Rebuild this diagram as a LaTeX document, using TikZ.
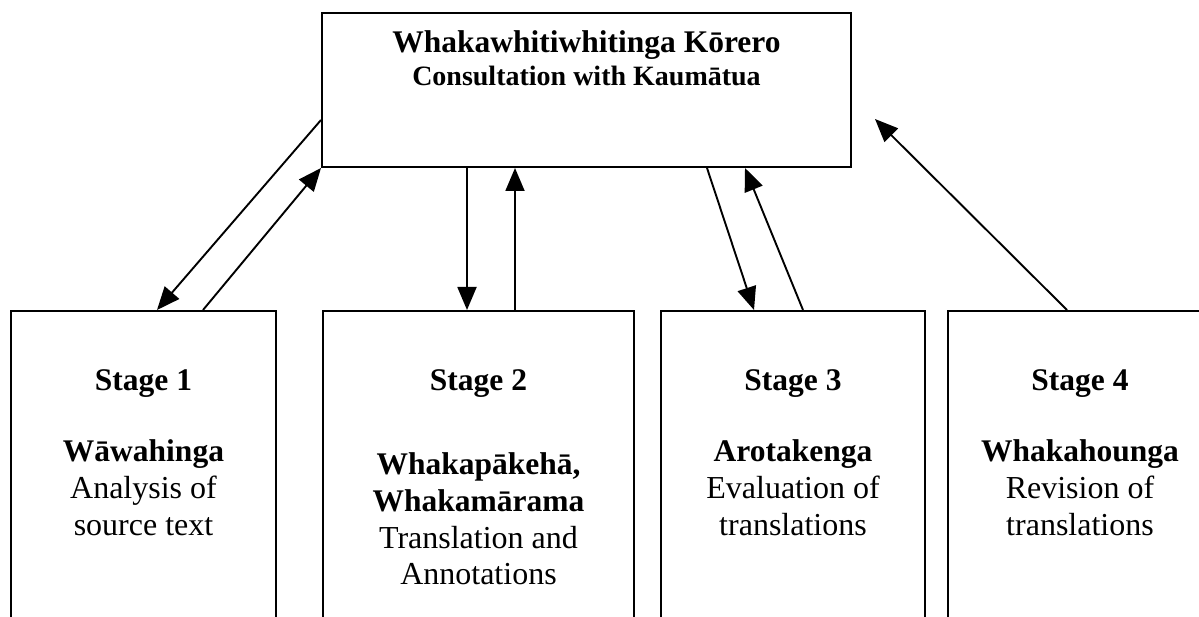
\documentclass[tikz,border=0pt]{standalone}
\usepackage{fontspec}
\setmainfont{Liberation Serif}
\usetikzlibrary{arrows.meta,calc}
\begin{document}
\begin{tikzpicture}[x=1pt,y=-1pt,
  box/.style={draw,line width=2pt,rectangle,inner sep=0pt},
  arr/.style={line width=1.9pt,-{Triangle[length=23pt,width=19pt]}},
  bt/.style={font=\fontsize{31.5}{36}\selectfont\bfseries,anchor=base,inner sep=0pt},
  bs/.style={font=\fontsize{28}{32}\selectfont\bfseries,anchor=base,inner sep=0pt},
  rt/.style={font=\fontsize{32}{36}\selectfont,anchor=base,inner sep=0pt}]
\useasboundingbox (0,0) rectangle (1199,617);
\clip (0,0) rectangle (1199,617);
% boxes
\node[box,minimum width=529pt,minimum height=154pt] (top) at (586.5,90) {};
\node[box,minimum width=265pt,minimum height=349pt] (s1) at (143.5,485.5) {};
\node[box,minimum width=311pt,minimum height=349pt] (s2) at (478.5,485.5) {};
\node[box,minimum width=264pt,minimum height=349pt] (s3) at (793,485.5) {};
\node[box,minimum width=264pt,minimum height=349pt] (s4) at (1080,485.5) {};
% top texts
\node[bt] (title) at (586.5,53) {Whakawhitiwhitinga Kōrero};
\node[bs] (sub) at (586.5,86) {Consultation with Kaumātua};
% stage 1
\node[bt] (st1) at (143.5,390) {Stage 1};
\node[bt] (n1) at (143.5,461) {Wāwahinga};
\node[rt] (d1a) at (143.5,498) {Analysis of};
\node[rt] (d1b) at (143.5,535) {source text};
% stage 2
\node[bt] (st2) at (478.5,390) {Stage 2};
\node[bt] (n2a) at (478.5,474) {Whakapākehā,};
\node[bt] (n2b) at (478.5,511) {Whakamārama};
\node[rt] (d2a) at (478.5,548) {Translation and};
\node[rt] (d2b) at (478.5,584) {Annotations};
% stage 3
\node[bt] (st3) at (793,390) {Stage 3};
\node[bt] (n3) at (793,461) {Arotakenga};
\node[rt] (d3a) at (793,498) {Evaluation of};
\node[rt] (d3b) at (793,535) {translations};
% stage 4
\node[bt] (st4) at (1080,390) {Stage 4};
\node[bt] (n4) at (1080,461) {Whakahounga};
\node[rt] (d4a) at (1080,498) {Revision of};
\node[rt] (d4b) at (1080,535) {translations};
% connectors
\coordinate (g) at (875,119);
\draw[arr] ([yshift=-30pt]top.west) -- ([xshift=13.5pt]s1.north);
\draw[arr] ([xshift=59.5pt]s1.north) -- (top.south west);
\draw[arr] ([xshift=-119.5pt]top.south) -- ([xshift=-11.5pt]s2.north);
\draw[arr] ([xshift=36.5pt]s2.north) -- ([xshift=-71.5pt]top.south);
\draw[arr] ([xshift=120.5pt]top.south) -- ([xshift=-39pt]s3.north);
\draw[arr] ([xshift=10pt]s3.north) -- ([xshift=158.5pt]top.south);
\draw[arr] ([xshift=-13pt]s4.north) -- (g);
\end{tikzpicture}
\end{document}
